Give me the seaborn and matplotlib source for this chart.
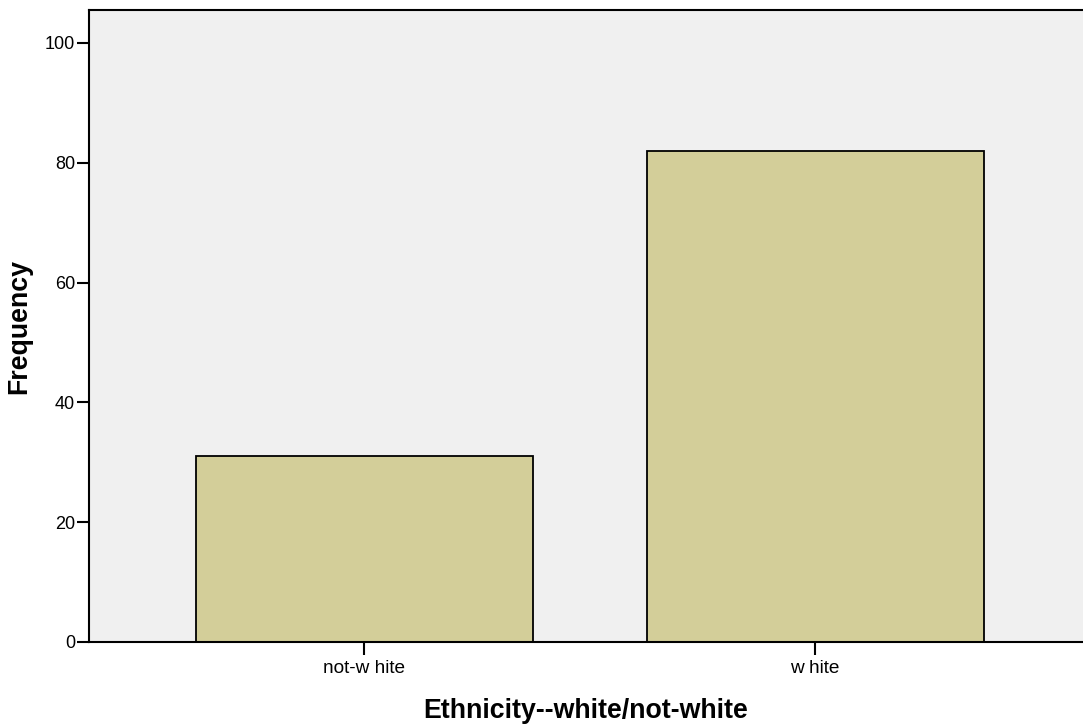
import pandas as pd
import seaborn as sns
import matplotlib.pyplot as plt

# Frequencies
categories = ["not-w hite", "w hite"]
frequencies = [31, 82]

df = pd.DataFrame({"Ethnicity": categories, "Frequency": frequencies})

sns.set_style("ticks")
plt.rcParams['font.family'] = ['Liberation Sans', 'DejaVu Sans']

fig = plt.figure(figsize=(10.83, 7.28), dpi=100)
ax = fig.add_axes([89 / 1083, 1 - 642 / 728, 1 - 89 / 1083, (642 - 10) / 728])
ax.set_facecolor("#F0F0F0")

sns.barplot(data=df, x="Ethnicity", y="Frequency", color="#D3CE99",
            width=0.747, edgecolor="black", linewidth=1.3, saturation=1, ax=ax)

ax.set_xlim(-0.61, 1.594)
ax.set_ylim(0, 105.5)
ax.set_yticks([0, 20, 40, 60, 80, 100])

for side in ["left", "bottom", "top"]:
    ax.spines[side].set_color("black")
    ax.spines[side].set_linewidth(1.5)
ax.spines["right"].set_visible(False)

ax.tick_params(axis="y", length=9, width=1.5, labelsize=13, pad=1, colors="black")
ax.tick_params(axis="x", length=9, width=1.5, labelsize=13.7, pad=4, colors="black")

ax.set_xlabel("Ethnicity--white/not-white", fontsize=19.3, fontweight="bold",
              labelpad=15, color="black")
ax.set_ylabel("Frequency", fontsize=19.3, fontweight="bold", labelpad=9, color="black")

plt.savefig("out.png", dpi=100)
